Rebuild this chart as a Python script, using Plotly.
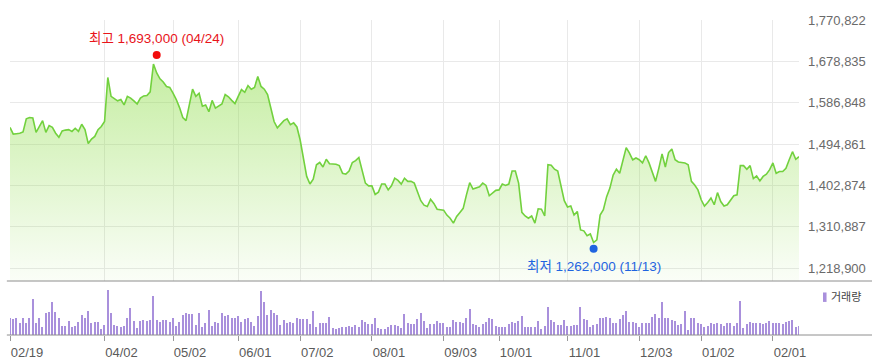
import plotly.graph_objects as go

# ---------------- data ----------------
tick_idx = [0, 29, 50, 70, 89, 111, 133, 150, 171, 193, 212, 234]
tick_labels = ["02/19", "04/02", "05/02", "06/01", "07/02", "08/01",
               "09/03", "10/01", "11/01", "12/03", "01/02", "02/01"]
y_ticks = [1218900, 1310887, 1402874, 1494861, 1586848, 1678835, 1770822]

price = [
    1532000, 1517000, 1518000, 1519000, 1522000, 1551000, 1554000, 1553000, 1521000, 1534000,
    1547000, 1521000, 1536000, 1532000, 1519000, 1510000, 1524000, 1526000, 1527000, 1523000,
    1530000, 1523000, 1539000, 1527000, 1496000, 1506000, 1512000, 1527000, 1534000, 1545000,
    1643000, 1601000, 1595000, 1591000, 1594000, 1582000, 1601000, 1597000, 1591000, 1584000,
    1597000, 1602000, 1603000, 1611000, 1673000, 1653000, 1640000, 1633000, 1623000, 1621000,
    1608000, 1594000, 1576000, 1554000, 1547000, 1582000, 1617000, 1601000, 1608000, 1579000,
    1582000, 1567000, 1592000, 1575000, 1579000, 1584000, 1605000, 1600000, 1592000, 1585000,
    1601000, 1616000, 1610000, 1625000, 1617000, 1621000, 1645000, 1623000, 1617000, 1605000,
    1575000, 1545000, 1531000, 1540000, 1547000, 1551000, 1538000, 1542000, 1533000, 1504000,
    1464000, 1423000, 1406000, 1417000, 1449000, 1454000, 1444000, 1461000, 1451000, 1450000,
    1450000, 1447000, 1430000, 1428000, 1435000, 1454000, 1458000, 1465000, 1438000, 1408000,
    1402000, 1402000, 1383000, 1388000, 1406000, 1406000, 1393000, 1402000, 1419000, 1414000,
    1406000, 1419000, 1412000, 1412000, 1408000, 1389000, 1369000, 1359000, 1356000, 1372000,
    1363000, 1350000, 1349000, 1348000, 1337000, 1330000, 1319000, 1334000, 1343000, 1352000,
    1382000, 1409000, 1395000, 1397000, 1400000, 1408000, 1403000, 1380000, 1387000, 1392000,
    1393000, 1406000, 1403000, 1406000, 1435000, 1435000, 1408000, 1343000, 1335000, 1330000,
    1335000, 1319000, 1351000, 1350000, 1335000, 1449000, 1448000, 1439000, 1435000, 1400000,
    1369000, 1355000, 1357000, 1337000, 1345000, 1304000, 1302000, 1291000, 1295000, 1276000,
    1282000, 1337000, 1349000, 1378000, 1397000, 1426000, 1439000, 1430000, 1456000, 1487000,
    1475000, 1460000, 1464000, 1460000, 1453000, 1469000, 1453000, 1430000, 1412000, 1441000,
    1473000, 1444000, 1476000, 1484000, 1460000, 1455000, 1454000, 1453000, 1449000, 1412000,
    1404000, 1393000, 1371000, 1357000, 1365000, 1375000, 1360000, 1387000, 1367000, 1357000,
    1360000, 1371000, 1380000, 1382000, 1447000, 1447000, 1439000, 1447000, 1418000, 1424000,
    1413000, 1423000, 1428000, 1438000, 1453000, 1430000, 1434000, 1434000, 1441000, 1460000,
    1478000, 1461000, 1467000,
]

volume = [
    16700, 15700, 16700, 11700, 16700, 11700, 16700, 35700, 11700, 17300,
    8300, 21700, 22700, 32700, 22700, 16700, 9000, 9000, 14000, 8300,
    9000, 13300, 20000, 16700, 24000, 11700, 12700, 12700, 5700, 10000,
    45000, 21700, 10000, 9000, 8300, 9000, 16700, 26700, 14000, 6700,
    14000, 15000, 14300, 15000, 39000, 15000, 12700, 15000, 15000, 12700,
    17300, 9000, 13300, 20000, 22300, 20700, 20700, 10000, 21700, 8300,
    12300, 25000, 9000, 12700, 11700, 21700, 19300, 20000, 16700, 17300,
    19000, 13300, 15700, 16700, 13300, 9000, 19000, 44000, 32700, 20000,
    25000, 21700, 20000, 10000, 15000, 12300, 13300, 11700, 16700, 15700,
    16000, 15700, 10700, 24000, 8300, 11700, 12300, 11700, 17700, 6700,
    5700, 6700, 7700, 8300, 9000, 7700, 10000, 7700, 15000, 13300,
    11000, 11000, 16700, 6700, 5700, 5700, 7700, 10000, 10000, 9000,
    6700, 20700, 11700, 11000, 11000, 15700, 22300, 14000, 6700, 10700,
    10700, 14000, 11700, 12300, 7700, 7700, 15000, 13300, 13300, 11700,
    16700, 25700, 11000, 10000, 8300, 10700, 13300, 16700, 15700, 9000,
    8300, 8300, 8300, 10700, 12700, 12300, 14000, 19300, 8300, 8300,
    8300, 8300, 14000, 5700, 9000, 27700, 15000, 13300, 10000, 10000,
    15000, 9000, 9000, 10000, 10000, 27700, 15700, 15000, 7700, 10000,
    11000, 16700, 16700, 18300, 16700, 11700, 11700, 15700, 20000, 24000,
    13300, 13300, 11700, 7700, 12300, 11700, 12300, 17700, 20700, 16700,
    33300, 16700, 16700, 15000, 14000, 10000, 10700, 24000, 5000, 17300,
    16700, 11700, 10700, 8300, 9000, 11700, 10700, 12300, 11000, 9000,
    11700, 12300, 9000, 11700, 34000, 6700, 11000, 13300, 11700, 11700,
    11700, 11000, 11700, 14000, 11700, 11700, 11700, 11000, 13300, 14000,
    15000, 8300, 9000,
]

high_idx, high_val, high_date = 45, 1693000, "04/24"
low_idx, low_val, low_date = 179, 1262000, "11/13"
volume_label = "거래량"

# ---------------- figure ----------------
FONT = "Liberation Sans, Noto Sans CJK KR, sans-serif"
x_price = list(range(len(price)))
x_vol = list(range(len(volume)))
n_last = len(price) - 1
y_lo = 1190400
y_hi = y_ticks[-1]

fig = go.Figure()

fig.add_trace(go.Scatter(
    x=x_price, y=price, mode="lines",
    line=dict(color="#72d13e", width=1.6),
    fill="tozeroy",
    fillgradient=dict(type="vertical",
                      colorscale=[[0, "rgba(140,220,70,0.04)"],
                                  [1, "rgba(140,220,70,0.52)"]],
                      start=y_lo, stop=high_val),
    xaxis="x", yaxis="y", hoverinfo="skip",
))

fig.add_trace(go.Scatter(
    x=[high_idx], y=[high_val], mode="markers",
    marker=dict(color="#f20d0d", size=8),
    xaxis="x", yaxis="y", hoverinfo="skip",
))
fig.add_trace(go.Scatter(
    x=[low_idx], y=[low_val], mode="markers",
    marker=dict(color="#1f64e0", size=8),
    xaxis="x", yaxis="y", hoverinfo="skip",
))

fig.add_trace(go.Bar(
    x=x_vol, y=volume, width=0.42,
    marker=dict(color="#a990dc", line=dict(width=0)),
    xaxis="x2", yaxis="y2", hoverinfo="skip",
))

price_bottom = 0.1714

fig.update_layout(
    width=872, height=362,
    margin=dict(l=10, r=73, t=20, b=27, autoexpand=False),
    paper_bgcolor="white", plot_bgcolor="white",
    showlegend=False,
    bargap=0,
    font=dict(family=FONT, size=13, color="#666"),
    xaxis=dict(domain=[0, 1], range=[0, n_last], anchor="y", automargin=False,
               tickvals=tick_idx, showticklabels=False, ticks="",
               showgrid=True, gridcolor="#e9e9e9", gridwidth=1,
               zeroline=False, showline=False),
    yaxis=dict(domain=[price_bottom, 1], range=[y_lo, y_hi], anchor="x",
               automargin=False,
               side="right", tickvals=y_ticks,
               ticktext=[f"{v:,}" for v in y_ticks],
               ticks="", ticklabelstandoff=8,
               tickfont=dict(family=FONT, size=13, color="#6a6a6a"),
               showgrid=True, gridcolor="#e9e9e9", gridwidth=1,
               zeroline=False, showline=False),
    xaxis2=dict(domain=[0, 1], range=[0, n_last], anchor="y2", automargin=False,
                tickvals=tick_idx, ticktext=tick_labels,
                ticks="outside", ticklen=5, tickcolor="#999", tickwidth=1,
                ticklabelshift=17,
                tickfont=dict(family=FONT, size=13, color="#5a5a5a"),
                showgrid=False, zeroline=False, showline=False),
    yaxis2=dict(domain=[0, 0.168], range=[0, 53000], anchor="x2",
                automargin=False,
                visible=False, showgrid=False, zeroline=False),
)

# separator and baseline lines (full width)
for yy in (price_bottom, 0):
    fig.add_shape(type="line", xref="paper", yref="paper",
                  x0=-0.004, x1=1.093, y0=yy, y1=yy,
                  line=dict(color="#8e8e8e", width=1))

# volume legend
fig.add_shape(type="rect", xref="paper", yref="paper",
              x0=1.0304, x1=1.0349, y0=0.105, y1=0.135,
              fillcolor="#a990dc", line=dict(width=0))
fig.add_annotation(xref="paper", yref="paper", x=1.0385, y=0.12,
                   text=volume_label, showarrow=False,
                   xanchor="left", yanchor="middle",
                   font=dict(family=FONT, size=11, color="#444"))

# high / low labels
fig.add_annotation(x=high_idx, y=high_val, xref="x", yref="y",
                   text=f"최고 {high_val:,} ({high_date})",
                   showarrow=False, yshift=17,
                   font=dict(family=FONT, size=13.5, color="#e8141a"))
fig.add_annotation(x=low_idx, y=low_val, xref="x", yref="y",
                   text=f"최저 {low_val:,} ({low_date})",
                   showarrow=False, yshift=-18,
                   font=dict(family=FONT, size=13.5, color="#1f64e0"))

fig.write_html(
    "out.html",
    config={"displayModeBar": False},
    post_script="document.body.style.margin='0';document.body.style.overflow='hidden';",
)
